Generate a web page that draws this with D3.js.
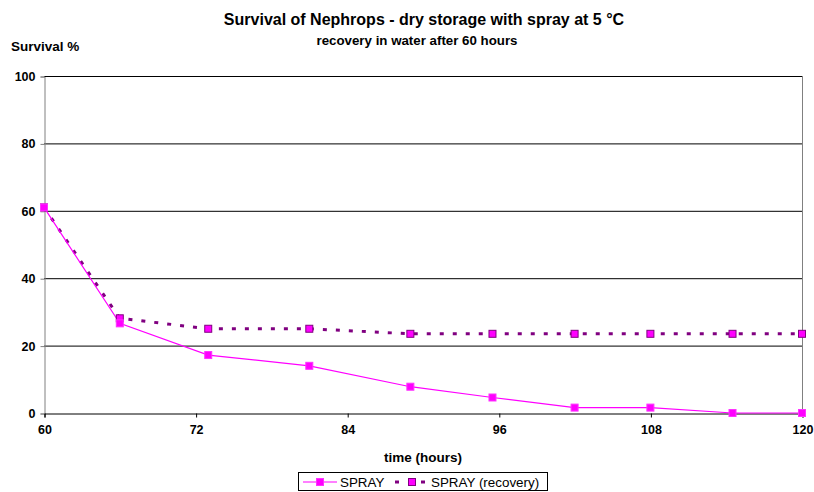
<!DOCTYPE html>
<html><head><meta charset="utf-8">
<script src="https://cdn.jsdelivr.net/npm/d3@7"></script>
<style>body{margin:0;background:#fff;} text{font-family:"Liberation Sans",Arial,sans-serif;}</style>
</head><body><svg id="c" width="814" height="492"></svg>
<script>
const hours = [60, 66, 73, 81, 89, 95.5, 102, 108, 114.5, 120];
const spray = [61, 26.6, 17.2, 14.0, 7.8, 4.6, 1.6, 1.6, 0, 0];
const sprayRecovery = [61, 28.1, 25.0, 25.0, 23.5, 23.5, 23.5, 23.5, 23.5, 23.5];
const xTicks = [60, 72, 84, 96, 108, 120];
const yTicks = [0, 20, 40, 60, 80, 100];
const seriesNames = ["SPRAY", "SPRAY (recovery)"];

const svg = d3.select("#c");
const x = d3.scaleLinear().domain([60, 120]).range([44, 802]);
const y = d3.scaleLinear().domain([0, 100]).range([413, 76]);

// grid
svg.append("g").selectAll("line").data(yTicks.filter(d => d > 0)).join("line")
  .attr("x1", 44).attr("x2", 802).attr("y1", d => y(d) + 0.5).attr("y2", d => y(d) + 0.5)
  .attr("stroke", "#000").attr("stroke-width", 1);
// right border
svg.append("line").attr("x1", 802.5).attr("x2", 802.5).attr("y1", 76).attr("y2", 413)
  .attr("stroke", "#808080");

// y axis
const ya = svg.append("g").attr("transform", "translate(44.5,0.5)")
  .call(d3.axisLeft(y).tickValues(yTicks).tickSize(4).tickPadding(5).tickFormat(d3.format("d")));
ya.select(".domain").attr("stroke", "#808080");
ya.selectAll(".tick line").attr("stroke", "#808080");
ya.selectAll("text").attr("font-size", 12.5).attr("fill", "#000").attr("font-family", "Liberation Sans, Arial").style("font-weight", "bold");

// x axis
const xa = svg.append("g").attr("transform", "translate(0.5,413.5)")
  .call(d3.axisBottom(x).tickValues(xTicks).tickSize(4).tickPadding(8).tickFormat(d3.format("d")));
xa.select(".domain").attr("stroke", "#000");
xa.selectAll(".tick line").attr("stroke", "#000");
xa.selectAll("text").attr("font-size", 12.5).attr("fill", "#000").attr("font-family", "Liberation Sans, Arial").style("font-weight", "bold");

// lines
const line = (vals) => d3.line().x((d, i) => x(hours[i])).y(d => y(d))(vals);
svg.append("path").attr("d", line(sprayRecovery)).attr("fill", "none")
  .attr("stroke", "#800080").attr("stroke-width", 3).attr("stroke-dasharray", "4,9");
svg.append("path").attr("d", line(spray)).attr("fill", "none")
  .attr("stroke", "#FF00FF").attr("stroke-width", 1.2);

const ms = 7;
svg.append("g").selectAll("rect").data(sprayRecovery).join("rect")
  .attr("x", (d, i) => x(hours[i]) - ms / 2).attr("y", d => y(d) - ms / 2)
  .attr("width", ms).attr("height", ms).attr("fill", "#FF00FF").attr("stroke", "#800080").attr("stroke-width", 1);
svg.append("g").selectAll("rect").data(spray).join("rect")
  .attr("x", (d, i) => x(hours[i]) - ms / 2).attr("y", d => y(d) - ms / 2)
  .attr("width", ms).attr("height", ms).attr("fill", "#FF00FF").attr("stroke", "#FF33FF").attr("stroke-width", 1);

// titles
svg.append("text").attr("x", 424).attr("y", 25).attr("text-anchor", "middle").attr("font-size", 16).style("font-weight", "bold")
  .text("Survival of Nephrops - dry storage with spray at 5 °C");
svg.append("text").attr("x", 417).attr("y", 45).attr("text-anchor", "middle").attr("font-size", 13.3).style("font-weight", "bold")
  .text("recovery in water after 60 hours");
svg.append("text").attr("x", 11).attr("y", 51).attr("font-size", 13.5).style("font-weight", "bold").text("Survival %");
svg.append("text").attr("x", 423).attr("y", 462).attr("text-anchor", "middle").attr("font-size", 13.5).style("font-weight", "bold").text("time (hours)");

// legend
const lg = svg.append("g");
lg.append("rect").attr("x", 298.5).attr("y", 472.5).attr("width", 249).attr("height", 18)
  .attr("fill", "#fff").attr("stroke", "#000");
lg.append("line").attr("x1", 303).attr("x2", 337).attr("y1", 482).attr("y2", 482).attr("stroke", "#FF00FF").attr("stroke-width", 1.2);
lg.append("rect").attr("x", 316.5).attr("y", 478.5).attr("width", 7).attr("height", 7).attr("fill", "#FF00FF").attr("stroke", "#FF33FF");
lg.append("text").attr("x", 340).attr("y", 487).attr("font-size", 13.4).style("font-weight", "normal").text(seriesNames[0]);
lg.append("line").attr("x1", 395).attr("x2", 429).attr("y1", 482).attr("y2", 482).attr("stroke", "#800080").attr("stroke-width", 3).attr("stroke-dasharray", "4,9");
lg.append("rect").attr("x", 408.5).attr("y", 478.5).attr("width", 7).attr("height", 7).attr("fill", "#FF00FF").attr("stroke", "#800080");
lg.append("text").attr("x", 431).attr("y", 487).attr("font-size", 13.4).style("font-weight", "normal").text(seriesNames[1]);
</script></body></html>
